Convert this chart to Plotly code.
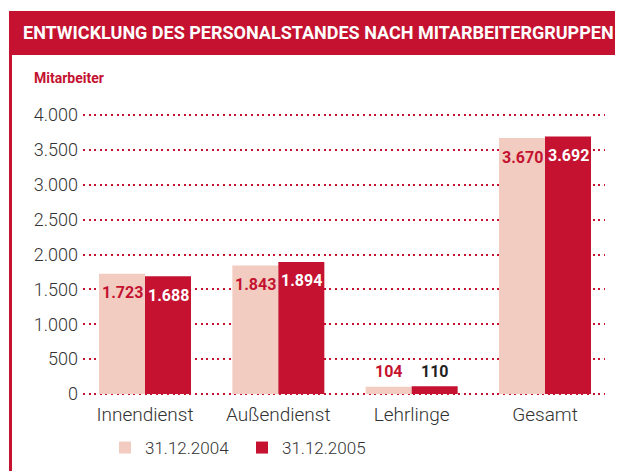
import plotly.graph_objects as go

categories = ["Innendienst", "Außendienst", "Lehrlinge", "Gesamt"]
series_names = ["31.12.2004", "31.12.2005"]
values_2004 = [1723, 1843, 104, 3670]
values_2005 = [1688, 1894, 110, 3692]
y_ticks = [0, 500, 1000, 1500, 2000, 2500, 3000, 3500, 4000]

RED = "#c41230"
PINK = "#f2ccc1"
GREY = "#333333"
OFF = 8            # default body margin of the html page
W, H = 623 - OFF, 471 - OFF
BOLD = "Roboto, Liberation Sans, Arial, sans-serif"
LIGHT = "Roboto, Liberation Sans, Arial, sans-serif"

# plot area in screen pixels
PL, PR, PT, PB = 83, 605, 113, 395

def px(x):
    return (x - OFF) / W

def py(y):
    return 1 - (y - OFF) / H

fig = go.Figure()
fig.add_trace(go.Bar(name=series_names[0], x=categories, y=values_2004,
                     marker=dict(color=PINK, line=dict(width=0))))
fig.add_trace(go.Bar(name=series_names[1], x=categories, y=values_2005,
                     marker=dict(color=RED, line=dict(width=0))))

annotations = []
series = [values_2004, values_2005]
for si, vals in enumerate(series):
    for cat, v in zip(categories, vals):
        inside = v > 400
        if inside:
            color = RED if si == 0 else "white"
            yshift = -19
        else:
            color = RED if si == 0 else "#231f20"
            yshift = 15
        annotations.append(dict(
            x=cat, y=v, xref="x", yref="y", text=f"{v:,}".replace(",", "."),
            showarrow=False, xshift=-23 if si == 0 else 23, yshift=yshift,
            yanchor="middle", xanchor="center",
            font=dict(family=BOLD, size=16, color=color, weight="bold")))

annotations.append(dict(
    x=px(318), y=py(33), xref="paper", yref="paper",
    text="ENTWICKLUNG DES PERSONALSTANDES NACH MITARBEITERGRUPPEN",
    showarrow=False, xanchor="center", yanchor="middle",
    font=dict(family=BOLD, size=18, color="white", weight="bold")))
annotations.append(dict(
    x=px(32), y=py(78), xref="paper", yref="paper", text="Mitarbeiter",
    showarrow=False, xanchor="left", yanchor="middle",
    font=dict(family=BOLD, size=14, color=RED, weight="bold")))

shapes = [
    dict(type="rect", xref="paper", yref="paper", x0=px(9), x1=px(640),
         y0=py(55), y1=py(11), fillcolor=RED, line=dict(width=0), layer="below"),
    dict(type="line", xref="paper", yref="paper", x0=px(10.5), x1=px(10.5),
         y0=py(55), y1=py(490), line=dict(color=RED, width=3), layer="below"),
]

fig.update_layout(
    width=W, height=H, autosize=False,
    margin=dict(l=0, r=0, t=0, b=0, autoexpand=False),
    paper_bgcolor="white", plot_bgcolor="white",
    separators=",.",
    barmode="group", bargap=0.31, bargroupgap=0,
    showlegend=True,
    legend=dict(orientation="h", x=px(105), y=py(448), xanchor="left", yanchor="middle",
                font=dict(family=LIGHT, size=17, color=GREY, weight=300),
                entrywidth=92, entrywidthmode="pixels", traceorder="normal"),
    xaxis=dict(domain=[px(PL), px(PR)], range=[-0.465, 3.45], type="category",
               showgrid=False, zeroline=False, showline=False, ticks="",
               tickfont=dict(family=LIGHT, size=19, color=GREY, weight=300),
               ticklabelstandoff=6),
    yaxis=dict(domain=[py(PB), py(PT)], range=[-15, 4030], tickvals=y_ticks,
               tickformat=",d", showgrid=True, gridcolor=RED, gridwidth=2,
               griddash="2px,3.6px", zeroline=False, showline=False, ticks="",
               tickfont=dict(family=LIGHT, size=18, color=GREY, weight=300),
               ticklabelstandoff=4),
    annotations=annotations,
    shapes=shapes,
)

fig.write_html("out.html")
